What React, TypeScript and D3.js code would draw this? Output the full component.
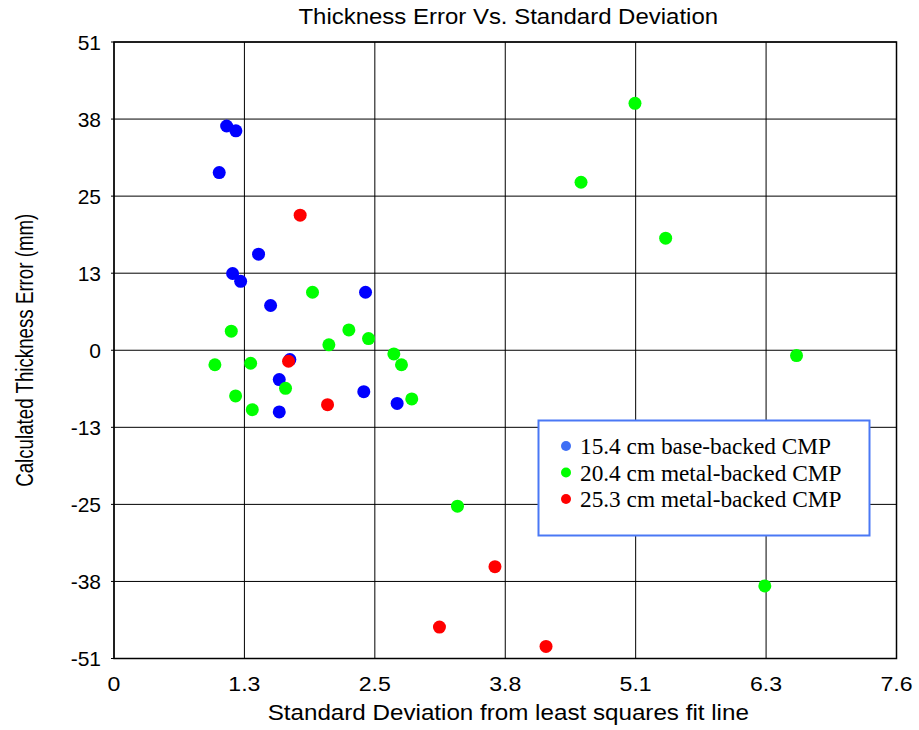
import React from "react";
import * as d3 from "d3";

const xTickValues = [0, 7.6 / 6, (7.6 * 2) / 6, 3.8, (7.6 * 4) / 6, (7.6 * 5) / 6, 7.6];
const xTickLabels = ["0", "1.3", "2.5", "3.8", "5.1", "6.3", "7.6"];
const yTickValues = [-51, -38.25, -25.5, -12.75, 0, 12.75, 25.5, 38.25, 51];
const yTickLabels = ["-51", "-38", "-25", "-13", "0", "13", "25", "38", "51"];

const blueData: [number, number][] = [
  [1.094, 37.1], [1.184, 36.3], [1.022, 29.4], [1.404, 15.9], [1.152, 12.7],
  [1.23, 11.4], [1.521, 7.4], [2.443, 9.6], [1.708, -1.55], [1.605, -4.85],
  [2.426, -6.85], [2.75, -8.8], [1.605, -10.2],
];
const greenData: [number, number][] = [
  [1.928, 9.6], [1.139, 3.15], [2.281, 3.37], [2.472, 1.93], [2.087, 0.89],
  [2.718, -0.6], [2.792, -2.4], [0.98, -2.4], [1.327, -2.15], [1.666, -6.3],
  [1.181, -7.56], [2.892, -8.06], [1.343, -9.83], [5.06, 40.85], [4.536, 27.8],
  [5.358, 18.55], [6.629, -0.88], [6.321, -39.0], [3.336, -25.8],
];
const redData: [number, number][] = [
  [1.808, 22.35], [1.695, -1.82], [2.074, -9.0], [3.7, -35.8], [3.161, -45.8], [4.196, -49.0],
];
const legendLabels = ["15.4 cm base-backed CMP", "20.4 cm metal-backed CMP", "25.3 cm metal-backed CMP"];

const W = 919, H = 730;
const L = 114, R = 896.5, T = 42, B = 658.5;
const sans = "'Liberation Sans', Arial, sans-serif";
const serif = "'Liberation Serif', 'Times New Roman', serif";

export default function App() {
  const x = d3.scaleLinear().domain([0, 7.6]).range([L, R]);
  const y = d3.scaleLinear().domain([-51, 51]).range([B, T]);
  const series = [
    { data: blueData, color: "#0000ff", legendColor: "#3f6ff5" },
    { data: greenData, color: "#00ff00", legendColor: "#00ff00" },
    { data: redData, color: "#ff0000", legendColor: "#ff0000" },
  ];
  return (
    <svg width={W} height={H} style={{ position: "absolute", left: 0, top: 0, background: "#fff" }}>
      <rect x={0} y={0} width={W} height={H} fill="#fff" />
      <text x={(L + R) / 2 + 3} y={24} textAnchor="middle" fontFamily={sans} fontSize={22} fill="#000"
        transform={`translate(${(L + R) / 2 + 3},0) scale(1.09,1) translate(${-((L + R) / 2 + 3)},0)`}>
        Thickness Error Vs. Standard Deviation
      </text>
      {xTickValues.map((v, i) => (
        <line key={"gx" + i} x1={x(v)} x2={x(v)} y1={T} y2={B} stroke="#000" strokeWidth={1} />
      ))}
      {yTickValues.map((v, i) => (
        <line key={"gy" + i} x1={L - 3} x2={R} y1={y(v)} y2={y(v)} stroke="#000" strokeWidth={1} />
      ))}
      <rect x={L} y={T} width={R - L} height={B - T} fill="none" stroke="#000" strokeWidth={1.5} />
      {yTickValues.map((v, i) => (
        <text key={"ty" + i} x={L - 13} y={y(v)} dy="0.36em" textAnchor="end" fontFamily={sans} fontSize={21} fill="#000">
          {yTickLabels[i]}
        </text>
      ))}
      {xTickValues.map((v, i) => (
        <text key={"tx" + i} x={x(v)} y={691} textAnchor="middle" fontFamily={sans} fontSize={21} fill="#000"
          transform={`translate(${x(v)},0) scale(1.1,1) translate(${-x(v)},0)`}>
          {xTickLabels[i]}
        </text>
      ))}
      <text x={(L + R) / 2 + 3} y={720} textAnchor="middle" fontFamily={sans} fontSize={22} fill="#000"
        transform={`translate(${(L + R) / 2 + 3},0) scale(1.1,1) translate(${-((L + R) / 2 + 3)},0)`}>
        Standard Deviation from least squares fit line
      </text>
      <text
        transform={`translate(33,${(T + B) / 2}) rotate(-90) scale(0.78,1)`}
        textAnchor="middle"
        fontFamily={sans}
        fontSize={24}
        fill="#000"
      >
        Calculated Thickness Error (mm)
      </text>
      {series.map((s, si) => (
        <g key={"s" + si}>
          {s.data.map((d, i) => (
            <circle key={i} cx={x(d[0])} cy={y(d[1])} r={6.5} fill={s.color} />
          ))}
        </g>
      ))}
      <rect x={538.5} y={420.5} width={331} height={115} fill="#fff" stroke="#4a78f5" strokeWidth={2} />
      {legendLabels.map((lab, i) => (
        <g key={"lg" + i}>
          <circle cx={566} cy={446 + i * 26.5} r={5} fill={series[i].legendColor} />
          <text x={580} y={454 + i * 26.5} fontFamily={serif} fontSize={23.3} fill="#000">
            {lab}
          </text>
        </g>
      ))}
    </svg>
  );
}
